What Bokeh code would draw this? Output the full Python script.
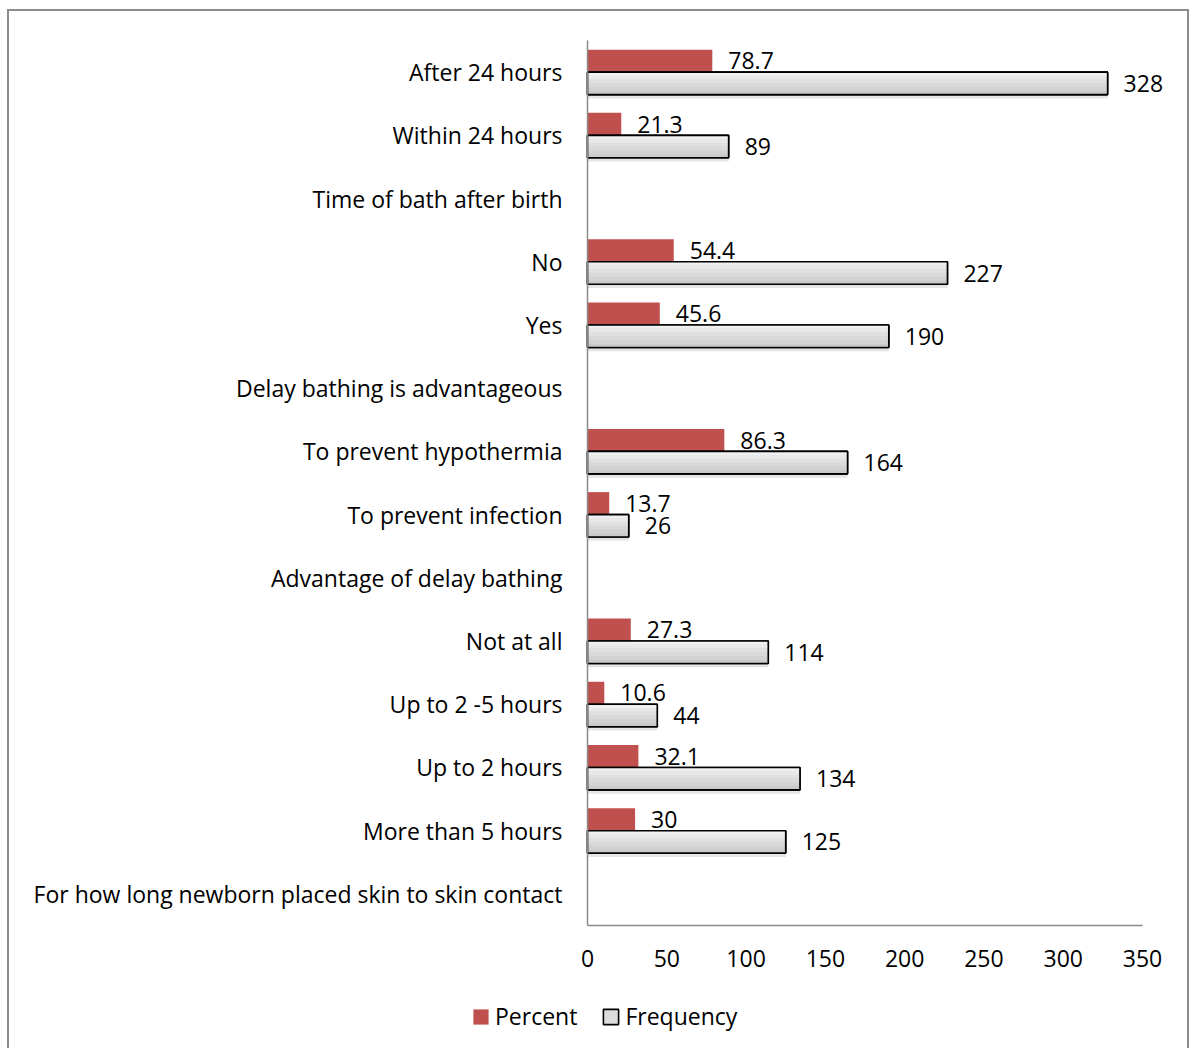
from bokeh.plotting import figure
from bokeh.models import ColumnDataSource, Legend, LegendItem, Range1d, FixedTicker
from bokeh.transform import dodge
from bokeh.core.properties import value
from bokeh.embed import file_html
from bokeh.resources import INLINE

categories = [
    "After 24 hours",
    "Within 24 hours",
    "Time of bath after birth",
    "No",
    "Yes",
    "Delay bathing is advantageous",
    "To prevent hypothermia",
    "To prevent infection",
    "Advantage of delay bathing",
    "Not at all",
    "Up to 2 -5 hours",
    "Up to 2 hours",
    "More than 5 hours",
    "For how long newborn placed skin to skin contact",
]
percent = [78.7, 21.3, None, 54.4, 45.6, None, 86.3, 13.7, None, 27.3, 10.6, 32.1, 30, None]
frequency = [328, 89, None, 227, 190, None, 164, 26, None, 114, 44, 134, 125, None]
x_ticks = [0, 50, 100, 150, 200, 250, 300, 350]

FONT = "Open Sans"
FS = "23px"
RED = "#c0504d"
GRAY_FILL = "#dcdcdc"
GRADIENT = ["#f0f0f0", "#e8e8e8", "#e0e0e0", "#d9d9d9", "#d2d2d2", "#cbcbcb"]
AXIS = "#8a8a8a"

N = len(categories)
ypos = [N - 1 - i for i in range(N)]          # top category highest


def fmt(v):
    return str(int(v)) if float(v).is_integer() else str(v)


BH = 0.355
OFF = 0.178

pi = [i for i, v in enumerate(percent) if v is not None]
fi = [i for i, v in enumerate(frequency) if v is not None]
src_p = ColumnDataSource(dict(y=[ypos[i] + OFF for i in pi],
                              val=[percent[i] for i in pi],
                              lab=[fmt(percent[i]) for i in pi]))
src_f = ColumnDataSource(dict(y=[ypos[i] - OFF for i in fi],
                              val=[frequency[i] for i in fi],
                              lab=[fmt(frequency[i]) for i in fi]))

p = figure(
    width=1182, height=1039,
    x_range=Range1d(-364.5, 380.9),
    y_range=Range1d(-2.478, 13.959),
    output_backend="svg", toolbar_location=None,
    min_border=0, min_border_left=0, min_border_right=0,
    min_border_top=0, min_border_bottom=0,
)
p.styles = {
    "border-left": "2px solid #8c8c8c",
    "border-top": "2px solid #8c8c8c",
    "border-right": "2px solid #8c8c8c",
    "margin-left": "7px",
    "margin-top": "9px",
}

rp = p.hbar(y="y", right="val", left=0, height=BH,
            source=src_p, fill_color=RED, line_color=None)

# soft shadow under frequency bars
p.hbar(y=dodge("y", -0.06), right="val", left=0, height=BH, source=src_f,
       fill_color="black", fill_alpha=0.10, line_color=None)

rf = p.hbar(y="y", right="val", left=0, height=BH,
            source=src_f, fill_color=GRAY_FILL, line_color="black", line_width=1.6)
n = len(GRADIENT)
for k, col in enumerate(GRADIENT):
    p.hbar(y=dodge("y", BH / 2 - (k + 0.5) * BH / n), right="val", left=0,
           height=BH / n + 0.002, source=src_f, fill_color=col, line_color=None)
p.hbar(y="y", right="val", left=0, height=BH, source=src_f,
       fill_color=None, line_color="black", line_width=1.6)

for src in (src_p, src_f):
    p.text(x="val", y="y", text="lab", source=src,
           x_offset=16, text_baseline="middle", text_align="left",
           text_font=value(FONT), text_font_size=FS, text_color="black")

p.outline_line_color = None
p.xgrid.grid_line_color = None
p.ygrid.grid_line_color = None
p.background_fill_color = None

for ax in (p.xaxis[0], p.yaxis[0]):
    ax.axis_line_color = AXIS
    ax.axis_line_width = 1.5
    ax.major_tick_line_color = None
    ax.minor_tick_line_color = None
    ax.major_label_text_font = FONT
    ax.major_label_text_font_size = FS
    ax.major_label_text_color = "black"

xa = p.xaxis[0]
xa.ticker = FixedTicker(ticks=x_ticks)
xa.bounds = (x_ticks[0], x_ticks[-1])
xa.fixed_location = -0.5
xa.major_label_standoff = 19

ya = p.yaxis[0]
ya.ticker = FixedTicker(ticks=ypos)
ya.major_label_overrides = {ypos[i]: categories[i] for i in range(N)}
ya.bounds = (-0.5, N - 0.5)
ya.fixed_location = 0
ya.major_label_standoff = 19

legend = Legend(
    items=[LegendItem(label="Percent", renderers=[rp]),
           LegendItem(label="Frequency", renderers=[rf])],
    orientation="horizontal",
    location=(462, 18),
    label_text_font=FONT, label_text_font_size=FS, label_text_color="black",
    glyph_width=19, glyph_height=19, label_standoff=5, spacing=24,
    padding=0, margin=0,
    border_line_color=None, background_fill_alpha=0,
)
p.add_layout(legend, "center")

open("out.html", "w").write(file_html(p, INLINE))
